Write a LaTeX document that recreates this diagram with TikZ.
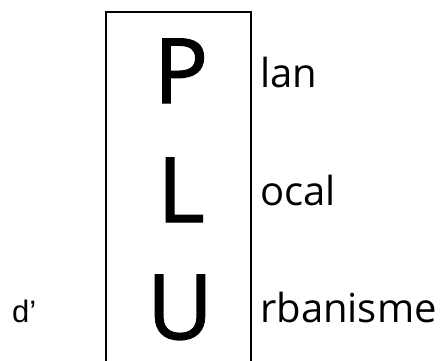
\documentclass[tikz,border=0pt]{standalone}
\usepackage{fontspec}
\setmainfont{Open Sans}
\newfontfamily\plufont[FakeBold=1.6]{Open Sans}
\newfontfamily\apofont{Liberation Sans}
\usepackage{tikz}
\usetikzlibrary{positioning}

\tikzset{
  bigletter/.style={anchor=base, inner sep=0pt, text depth=0pt, font=\plufont\fontsize{90}{90}\selectfont},
  wordrest/.style={anchor=base west, inner sep=0pt, text depth=0pt, font=\fontsize{40}{40}\selectfont}
}

\begin{document}
\begin{tikzpicture}[x=1pt,y=-1pt]
\useasboundingbox (0,0) rectangle (442,360);

% cadre ouvert en bas
\coordinate (bl) at (106,362);
\coordinate (tr) at (251,12);
\coordinate (br) at (251,362);
\draw[line width=2.3pt] (bl) |- (tr) -- (br);

\node[bigletter] (P) at (181,103) {P};
\node[bigletter] (L) at (181,222) {L};
\node[bigletter] (U) at (180,339) {U};

\node[wordrest] (lan) at (260,87) {lan};
\node[wordrest] (ocal) at (260,205) {ocal};
\node[wordrest] (rbanisme) at (260,322) {rbanisme};

\node[anchor=base west, inner sep=0pt, text depth=0pt, font=\apofont\fontsize{31}{31}\selectfont] (de) at (12,322) {d’};
\end{tikzpicture}
\end{document}
